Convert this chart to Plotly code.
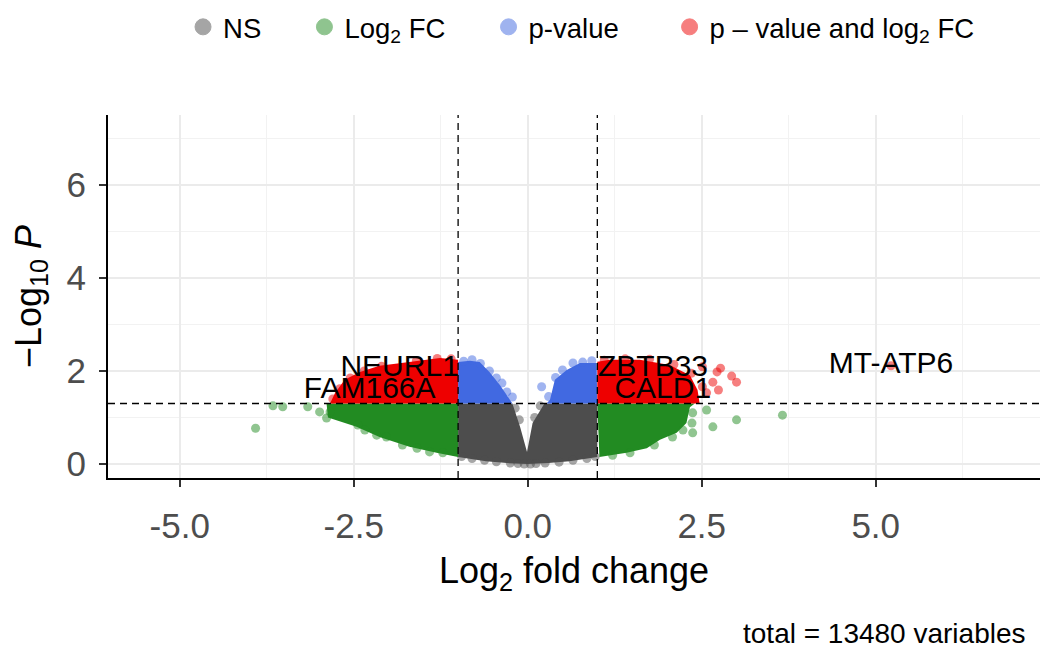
import plotly.graph_objects as go

# ---- data: log2 fold change (x) against -log10 p (y) ----
# Dense cloud of each class, traced as an outline
ns_core_x = [-1.00, -0.22, -0.11, -0.01, 0.07, 0.24, 1.00, 1.00, 0.60, 0.30, 0.00, -0.30, -0.60, -1.00]
ns_core_y = [1.30, 1.30, 0.80, 0.26, 0.88, 1.30, 1.30, 0.15, 0.06, 0.02, 0.00, 0.02, 0.06, 0.15]

fc_left_core_x = [-1.00, -2.89, -2.87, -2.46, -2.13, -1.70, -1.31, -1.00]
fc_left_core_y = [1.30, 1.30, 1.00, 0.80, 0.58, 0.37, 0.24, 0.15]
fc_right_core_x = [1.00, 2.40, 2.33, 2.28, 2.14, 1.90, 1.71, 1.42, 1.03]
fc_right_core_y = [1.30, 1.30, 1.22, 0.88, 0.67, 0.52, 0.34, 0.24, 0.15]

p_left_core_x = [-1.00, -1.00, -0.83, -0.69, -0.55, -0.40, -0.30, -0.23, -0.22]
p_left_core_y = [1.30, 2.19, 2.22, 2.19, 1.98, 1.70, 1.48, 1.33, 1.30]
p_right_core_x = [0.27, 0.32, 0.39, 0.56, 0.75, 0.99, 1.00]
p_right_core_y = [1.30, 1.38, 1.81, 2.02, 2.17, 2.17, 1.30]

both_left_core_x = [-1.00, -2.84, -2.77, -2.63, -2.41, -2.13, -1.70, -1.26, -1.00]
both_left_core_y = [1.30, 1.30, 1.52, 1.81, 1.98, 2.11, 2.19, 2.28, 2.24]
both_right_core_x = [1.00, 1.00, 1.18, 1.61, 2.04, 2.33, 2.44, 2.47]
both_right_core_y = [1.30, 2.20, 2.24, 2.24, 2.13, 1.91, 1.59, 1.30]

# Individual points on the fringes of each cloud
ns_x = [-0.95, -0.80, -0.62, -0.45, -0.25, -0.14, -0.05, 0.04, 0.12, 0.25, 0.45, 0.65, 0.85, 0.97,
        -0.18, -0.12, 0.10, 0.18]
ns_y = [0.16, 0.12, 0.08, 0.05, 0.02, 0.01, 0.00, 0.00, 0.01, 0.02, 0.04, 0.08, 0.12, 0.16,
        1.20, 0.95, 1.00, 1.25]

fc_x = [-3.91, -3.66, -3.52, -3.16, -2.99, -2.89, -2.84, -2.44, -2.34, -2.17, -2.03, -1.80,
        -1.59, -1.41, -1.22,
        1.22, 1.47, 1.82, 2.08, 2.23, 2.37, 2.36, 2.37, 2.57, 2.66, 3.00, 3.66]
fc_y = [0.77, 1.25, 1.23, 1.23, 1.12, 0.99, 1.12, 0.84, 0.73, 0.62, 0.58, 0.41,
        0.34, 0.26, 0.24,
        0.19, 0.24, 0.41, 0.58, 0.73, 0.67, 0.88, 1.10, 1.16, 0.80, 0.95, 1.05]

p_x = [-0.92, -0.80, -0.68, -0.55, -0.45, -0.37, -0.30, -0.22,
       0.20, 0.30, 0.40, 0.50, 0.65, 0.79, 0.92]
p_y = [2.21, 2.24, 2.16, 2.00, 1.85, 1.74, 1.55, 1.44,
       1.66, 1.45, 1.86, 2.02, 2.17, 2.19, 2.22]

both_x = [-2.80, -2.70, -2.55, -2.35, -2.10, -1.60, -1.30, -1.10,
          1.10, 1.40, 1.75, 2.10, 2.35, 2.51, 2.72, 2.77, 2.93, 3.00, 2.74, 2.66, 2.57, 2.51, 5.22]
both_y = [1.40, 1.62, 1.85, 2.00, 2.10, 2.22, 2.27, 2.26,
          2.23, 2.26, 2.25, 2.14, 1.95, 2.09, 1.98, 2.06, 1.89, 1.76, 1.59, 1.76, 1.53, 1.66, 2.11]

# Labelled genes
gene_names = ["NEURL1", "FAM166A", "ZBTB33", "CALD1", "MT-ATP6"]
gene_x = [-1.84, -2.27, 1.80, 1.94, 5.22]
gene_y = [2.06, 1.59, 2.06, 1.59, 2.11]

# Axis ticks
x_tick_vals = [-5.0, -2.5, 0.0, 2.5, 5.0]
x_tick_text = ["-5.0", "-2.5", "0.0", "2.5", "5.0"]
y_tick_vals = [0, 2, 4, 6]

fc_cutoff = 1.0
p_cutoff_log = 1.301  # -log10(0.05)

# ---- styling ----
FONT = "Liberation Sans, Arial, sans-serif"
COL_NS = "#4D4D4D"
COL_FC = "#228B22"
COL_P = "#4169E1"
COL_BOTH = "#EE0000"
PT_SIZE = 9
ALPHA = 0.5
PAD = "\u00a0" * 5  # extra room between legend entries

fig = go.Figure()


def add_core(xs, ys, color):
    fig.add_trace(go.Scatter(x=xs, y=ys, mode="lines", fill="toself", fillcolor=color,
                             line=dict(width=0, color=color), hoverinfo="skip",
                             showlegend=False))


def add_points(xs, ys, color):
    fig.add_trace(go.Scatter(x=xs, y=ys, mode="markers", showlegend=False,
                             marker=dict(size=PT_SIZE, color=color, opacity=ALPHA,
                                         line=dict(width=0))))


add_core(ns_core_x, ns_core_y, COL_NS)
add_points(ns_x, ns_y, COL_NS)
add_core(fc_left_core_x, fc_left_core_y, COL_FC)
add_core(fc_right_core_x, fc_right_core_y, COL_FC)
add_points(fc_x, fc_y, COL_FC)
add_core(p_left_core_x, p_left_core_y, COL_P)
add_core(p_right_core_x, p_right_core_y, COL_P)
add_points(p_x, p_y, COL_P)
add_core(both_left_core_x, both_left_core_y, COL_BOTH)
add_core(both_right_core_x, both_right_core_y, COL_BOTH)
add_points(both_x, both_y, COL_BOTH)

# gene labels centred on their points
fig.add_trace(go.Scatter(x=gene_x, y=gene_y, mode="text", text=gene_names,
                         textposition="middle center", showlegend=False,
                         textfont=dict(family=FONT, size=30, color="black")))

# legend keys
legend_items = [("NS" + PAD, COL_NS),
                ("Log<sub>2</sub> FC" + PAD, COL_FC),
                ("p-value" + PAD + "\u00a0", COL_P),
                ("p \u2013 value and log<sub>2</sub> FC", COL_BOTH)]
for name, color in legend_items:
    fig.add_trace(go.Scatter(x=[None], y=[None], mode="markers", name=name,
                             marker=dict(size=16, color=color, opacity=ALPHA,
                                         line=dict(width=1, color=color))))

# cut-off lines
dash = dict(color="black", width=1.3, dash="7px,5px")
for xv in (-fc_cutoff, fc_cutoff):
    fig.add_shape(type="line", xref="x", yref="paper", x0=xv, x1=xv, y0=0, y1=1,
                  line=dash, layer="above")
fig.add_shape(type="line", xref="paper", yref="y", x0=0, x1=1, y0=p_cutoff_log,
              y1=p_cutoff_log, line=dash, layer="above")

axis_common = dict(showline=True, linecolor="black", linewidth=2, mirror=False,
                   ticks="outside", ticklen=7, tickwidth=2, tickcolor="#333333",
                   zeroline=False, showgrid=True, gridcolor="#EBEBEB", gridwidth=1.6,
                   tickfont=dict(family=FONT, size=35, color="#4D4D4D"))

fig.update_xaxes(range=[-6.03, 7.36], tickmode="array", tickvals=x_tick_vals,
                 ticktext=x_tick_text, ticklabelstandoff=9,
                 minor=dict(showgrid=True, tickmode="linear", dtick=1.25, tick0=0,
                            gridcolor="#F2F2F2", gridwidth=1, ticks=""),
                 title=dict(text="Log<sub>2</sub> fold change", standoff=14,
                            font=dict(family=FONT, size=36, color="black")),
                 **axis_common)
fig.update_yaxes(range=[-0.3, 7.5], tickmode="array", tickvals=y_tick_vals,
                 ticklabelstandoff=6,
                 minor=dict(showgrid=True, tickmode="linear", dtick=1, tick0=0,
                            gridcolor="#F2F2F2", gridwidth=1, ticks=""),
                 title=dict(text="\u2212Log<sub>10</sub> <i>P</i>", standoff=14,
                            font=dict(family=FONT, size=36, color="black")),
                 **axis_common)

fig.add_annotation(text="total = 13480 variables", xref="paper", yref="paper",
                   x=1, y=-0.427, xanchor="right", yanchor="middle", xshift=-12,
                   showarrow=False, font=dict(family=FONT, size=28, color="black"))

fig.update_layout(
    width=1044, height=647,
    margin=dict(l=108, r=4, t=115, b=169, autoexpand=False),
    paper_bgcolor="white", plot_bgcolor="white",
    showlegend=True,
    legend=dict(orientation="h", x=0.0805, xanchor="left", y=1.310, yanchor="top",
                font=dict(family=FONT, size=27.5, color="black"),
                bgcolor="rgba(0,0,0,0)"),
    font=dict(family=FONT),
)

fig.write_html("out.html")
